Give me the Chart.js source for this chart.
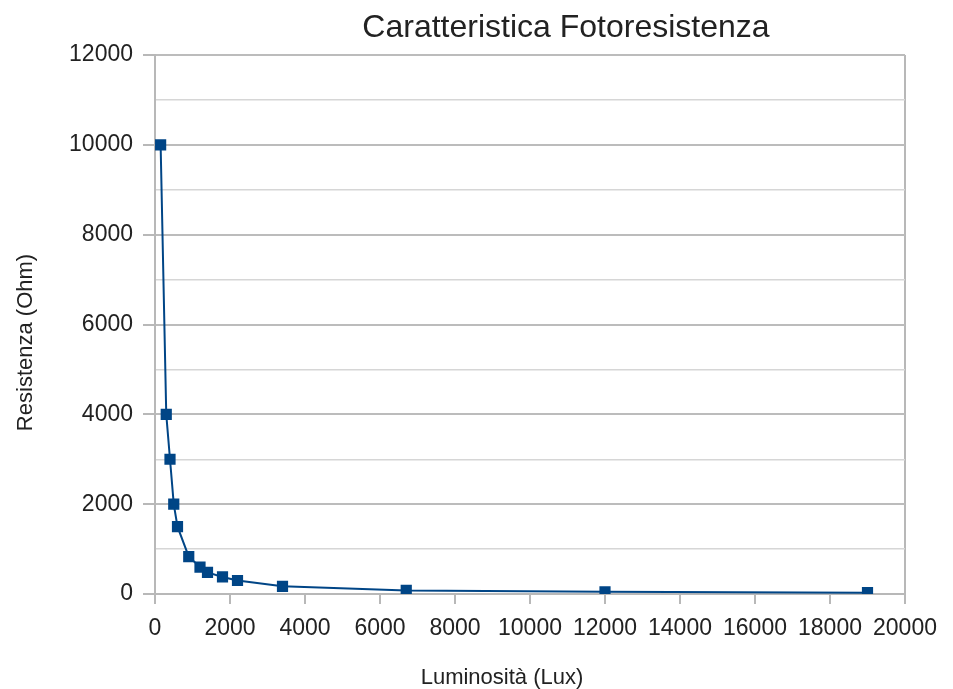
<!DOCTYPE html>
<html>
<head>
<meta charset="utf-8">
<script src="https://cdn.jsdelivr.net/npm/chart.js@4"></script>
<style>
  html, body { margin: 0; padding: 0; background: #fff; }
  #wrap { width: 953px; height: 689px; }
</style>
</head>
<body>
<div id="wrap"><canvas id="c" width="953" height="689"></canvas></div>
<script>
const chartTitle = "Caratteristica Fotoresistenza";
const xAxisTitle = "Luminosità (Lux)";
const yAxisTitle = "Resistenza (Ohm)";
const luxValues = [150, 300, 400, 500, 600, 900, 1200, 1400, 1800, 2200, 3400, 6700, 12000, 19000];
const ohmValues = [10000, 4000, 3000, 2000, 1500, 830, 600, 480, 380, 300, 170, 80, 50, 30];
const xTickRange = [0, 20000, 2000];
const yTickRange = [0, 12000, 1000];

const FONT = "'Liberation Sans', Arial, sans-serif";
const seriesColor = "#004586";

const points = luxValues.map((x, i) => ({ x: x, y: ohmValues[i] }));

const textPlugin = {
  id: 'customTexts',
  afterDraw(chart) {
    const ctx = chart.ctx;
    const ca = chart.chartArea;
    ctx.save();
    ctx.fillStyle = "#222";
    ctx.textAlign = "center";
    ctx.textBaseline = "middle";
    ctx.font = "32px " + FONT;
    ctx.fillText(chartTitle, (ca.left + ca.right) / 2 + 36, 28);
    ctx.font = "22px " + FONT;
    ctx.fillText(xAxisTitle, (ca.left + ca.right) / 2 - 28, 678);
    ctx.translate(26, (ca.top + ca.bottom) / 2 + 18);
    ctx.rotate(-Math.PI / 2);
    ctx.fillText(yAxisTitle, 0, 0);
    ctx.restore();
  }
};

new Chart(document.getElementById('c'), {
  type: 'line',
  data: {
    datasets: [{
      data: points,
      borderColor: seriesColor,
      backgroundColor: seriesColor,
      borderWidth: 2,
      pointStyle: 'rect',
      pointRadius: 6.5,
      pointHoverRadius: 6.5,
      tension: 0,
      fill: false
    }]
  },
  options: {
    responsive: false,
    animation: false,
    devicePixelRatio: 1,
    layout: { padding: { left: 0, right: 48, top: 55, bottom: 0 } },
    plugins: {
      legend: { display: false },
      title: { display: false },
      tooltip: { enabled: false }
    },
    scales: {
      x: {
        type: 'linear',
        min: xTickRange[0],
        max: xTickRange[1],
        afterFit(scale) { scale.height = 95; },
        ticks: {
          stepSize: xTickRange[2],
          color: "#222",
          font: { family: FONT, size: 23 },
          padding: 11,
          maxRotation: 0,
          callback: (v) => String(v)
        },
        grid: {
          drawOnChartArea: true,
          color: (c) => (c.tick && c.tick.value === xTickRange[1]) ? "#b8b8b8" : "rgba(0,0,0,0)",
          lineWidth: 2,
          tickColor: "#b8b8b8",
          tickLength: 10
        },
        border: { display: true, color: "#b8b8b8", width: 2 },
        title: { display: false }
      },
      y: {
        type: 'linear',
        min: yTickRange[0],
        max: yTickRange[1],
        afterFit(scale) { scale.width = 155; },
        ticks: {
          stepSize: yTickRange[2],
          color: "#222",
          font: { family: FONT, size: 23 },
          padding: 10,
          callback: (v) => (v % 2000 === 0 ? String(v) : '')
        },
        grid: {
          color: (c) => (c.tick && c.tick.value % 2000 === 0) ? "#bcbcbc" : "#d6d6d6",
          lineWidth: (c) => (c.tick && c.tick.value % 2000 === 0) ? 2 : 1.5,
          tickColor: (c) => (c.tick && c.tick.value % 2000 === 0) ? "#b8b8b8" : "rgba(0,0,0,0)",
          tickLength: 12
        },
        border: { display: true, color: "#b8b8b8", width: 2 },
        title: { display: false }
      }
    }
  },
  plugins: [textPlugin]
});
</script>
</body>
</html>
